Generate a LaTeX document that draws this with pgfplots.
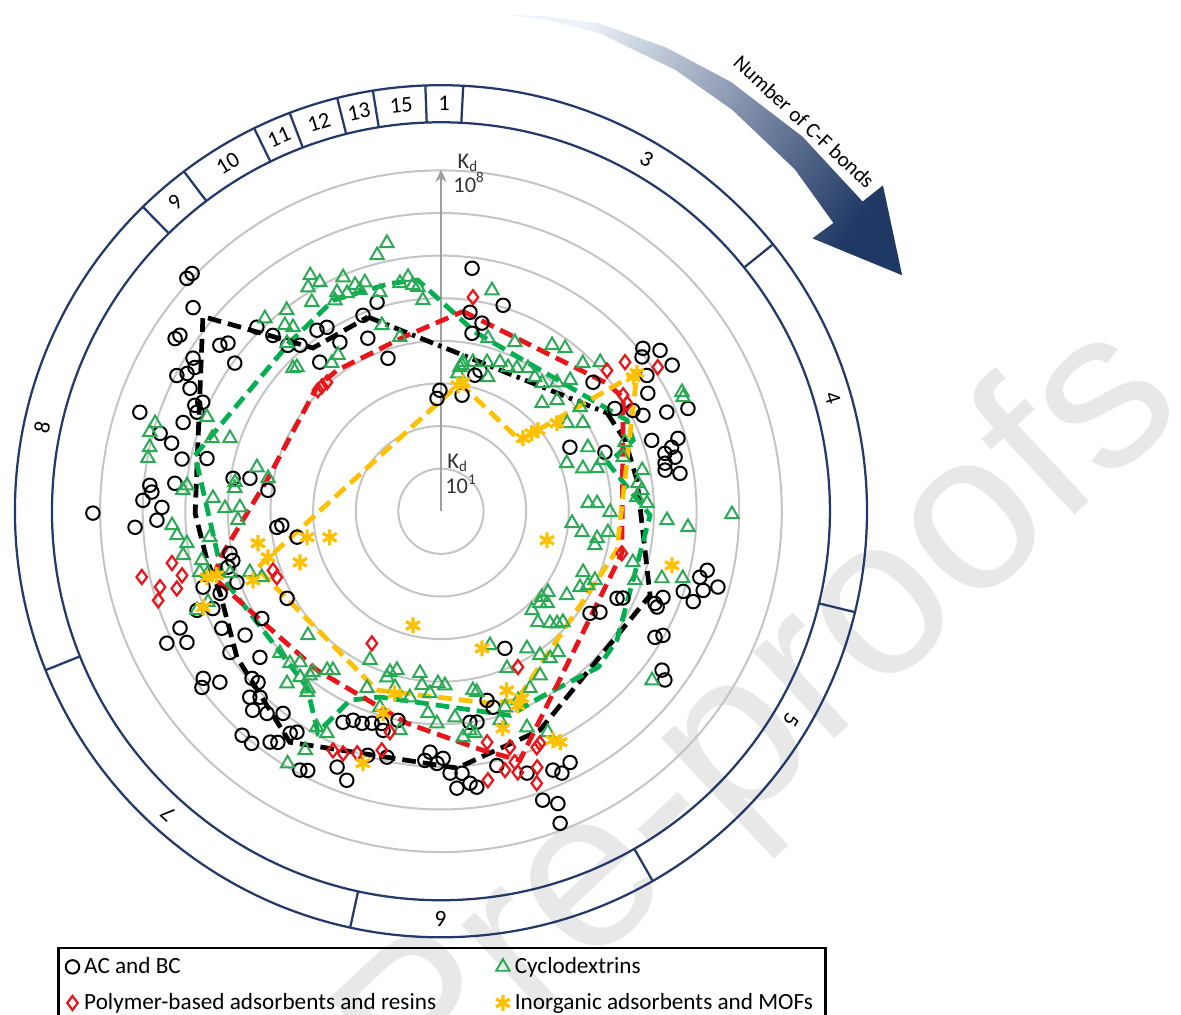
\documentclass[border=0pt]{standalone}
\usepackage{fontspec}
\setmainfont{Carlito}
\newfontfamily\wmfont{Liberation Sans}
\usepackage{pgfplots}
\usepackage{pgfplotstable}
\pgfplotsset{compat=1.18}
\usetikzlibrary{arrows.meta}

\definecolor{ringblue}{HTML}{22396A}
\definecolor{cdgreen}{HTML}{00B050}
\definecolor{cdmark}{HTML}{2BAA55}
\definecolor{polyred}{HTML}{E8161B}
\definecolor{inorg}{HTML}{FFC000}
\definecolor{gridgray}{HTML}{C4C4C4}
\definecolor{arrowlight}{HTML}{EEF3FA}
\definecolor{arrowmid}{HTML}{8EA9DB}
\definecolor{arrowdark}{HTML}{203864}

% t = angular position (degrees, clockwise from the top), k = log10 Kd
\pgfplotstableread{
t k
312.5 8.09
313.7 8.08
309.4 7.53
303.0 7.44
304.0 7.39
306.9 6.49
308.3 6.37
305.7 5.96
301.7 6.84
297.2 6.97
298.5 6.78
300.3 6.69
296.1 6.56
294.6 6.15
293.3 6.29
292.1 6.18
289.0 6.40
288.2 7.44
285.5 6.84
284.2 6.52
281.4 6.20
282.7 5.63
276.0 6.28
275.1 6.86
273.8 6.80
272.1 7.00
270.8 6.55
268.2 6.67
267.0 7.19
269.7 8.17
279.0 4.94
279.8 4.55
276.9 4.09
315.0 6.11
316.3 5.71
325.6 5.15
328.2 5.08
329.1 4.62
320.9 4.51
338.3 4.95
343.0 5.13
337.1 4.41
340.9 3.80
319.7 5.11
317.3 5.30
359.5 2.84
358.0 2.65
10.3 2.77
7.3 5.75
16.8 5.05
8.3 4.72
12.3 4.52
9.9 4.24
14.0 3.29
15.5 3.43
49.7 4.68
59.4 4.74
62.3 5.09
51.1 6.09
52.5 5.95
53.7 6.38
57.7 6.42
56.6 5.79
60.3 5.59
66.3 5.79
67.4 6.28
64.6 5.25
71.4 5.22
72.9 5.82
74.5 5.62
75.5 5.43
77.0 5.64
77.9 5.38
79.6 5.35
81.0 5.68
63.6 3.38
70.2 4.09
102.5 6.40
104.3 6.27
105.3 6.74
108.3 5.99
106.8 6.43
109.7 6.29
111.2 5.59
113.3 5.47
113.9 5.55
115.5 4.73
116.3 4.61
124.4 4.24
122.4 4.42
120.5 5.83
119.2 5.97
125.7 6.39
127.0 6.58
152.8 6.63
156.6 6.62
155.2 6.77
160.6 7.19
158.2 7.39
159.1 7.84
155.0 3.55
166.3 4.57
165.1 4.76
172.2 5.00
170.3 5.02
167.6 6.11
161.8 6.47
182.6 5.66
183.7 5.86
180.9 5.92
179.5 5.80
178.0 6.15
175.4 6.17
176.7 6.51
173.9 6.42
172.6 6.53
204.9 5.46
202.8 5.32
200.4 5.31
198.0 5.23
195.6 5.17
194.8 5.32
191.6 5.01
196.7 5.98
192.4 5.91
208.6 6.92
207.2 6.84
202.1 6.48
199.3 6.69
221.6 7.03
219.2 7.03
216.5 6.74
215.2 6.64
214.2 6.30
213.1 6.19
223.4 6.43
220.7 6.26
218.0 6.02
225.8 6.26
224.2 6.09
228.5 5.92
226.9 5.88
234.9 6.82
233.6 6.97
232.3 6.56
236.2 5.96
231.1 5.46
237.7 5.44
241.9 5.83
245.9 6.71
242.7 6.71
244.3 7.14
246.9 5.82
247.9 6.18
252.3 5.86
249.6 5.53
250.8 5.07
240.5 4.15
239.1 4.90
258.7 5.05
256.7 5.02
255.3 5.17
264.4 3.87
265.0 3.75
259.8 3.43
}\acbc

\pgfplotstableread{
t k
348.6 6.42
346.0 6.19
331.0 6.33
332.1 6.08
329.3 6.11
337.3 5.95
339.2 5.68
341.6 5.66
339.9 5.53
334.6 5.69
336.7 5.57
333.3 5.54
344.4 5.34
349.8 5.44
352.0 5.55
352.9 5.35
354.1 5.29
328.3 5.77
322.5 5.95
317.6 6.13
320.0 5.70
321.2 5.54
317.5 5.35
315.0 4.78
314.0 4.83
326.6 4.39
323.6 4.32
355.1 4.97
342.4 4.58
346.7 4.20
8.2 3.46
7.0 3.26
287.1 7.02
285.2 7.08
282.4 7.00
280.3 6.99
291.9 5.92
287.7 5.64
289.1 5.24
275.8 5.99
274.7 6.08
278.0 4.88
276.4 4.87
283.4 4.44
280.8 4.13
273.3 5.36
270.8 5.07
271.1 4.72
267.5 4.77
267.0 6.32
264.8 6.22
262.8 6.01
260.3 6.14
258.4 5.73
263.6 5.46
255.8 5.84
255.1 5.66
252.3 4.71
249.8 4.48
247.9 6.18
248.7 5.87
227.0 4.27
228.6 5.04
224.8 5.03
223.0 4.85
214.2 4.51
221.8 5.42
218.5 4.83
216.5 5.28
205.5 3.87
211.3 6.93
209.6 6.45
209.9 5.85
207.2 5.86
253.6 5.16
215.6 4.59
218.6 4.93
220.3 5.11
216.9 5.20
202.7 4.50
194.6 4.27
195.5 3.87
197.6 3.96
198.0 4.10
187.4 3.83
186.2 4.11
181.0 4.04
178.7 4.09
183.5 4.28
189.5 4.43
183.7 4.75
176.1 4.85
172.5 5.19
174.4 5.33
171.3 5.27
181.1 4.98
190.6 5.23
164.2 5.10
161.9 4.84
197.3 4.82
169.9 4.27
168.8 4.33
159.9 3.35
157.2 4.00
157.8 4.79
153.3 4.65
148.9 4.50
158.3 5.46
154.2 5.76
147.9 3.80
145.5 4.10
143.4 4.30
140.3 4.30
138.9 3.46
135.8 3.67
134.0 3.79
132.3 3.87
137.4 3.16
130.9 3.30
132.9 3.17
123.7 3.55
127.1 3.15
130.4 3.11
118.7 3.72
116.7 3.86
114.1 3.96
113.2 3.63
128.7 6.35
104.9 4.66
109.6 4.83
106.9 5.42
105.5 5.89
87.1 3.67
90.3 3.97
95.2 3.09
98.5 3.35
97.2 3.95
99.8 3.72
102.5 3.70
92.3 5.31
93.7 5.81
90.6 6.83
86.9 3.46
81.9 4.67
85.9 4.61
78.5 4.82
84.0 4.74
87.8 4.84
69.4 4.61
73.5 4.46
69.1 3.16
73.2 3.48
74.6 3.80
66.5 3.76
72.4 3.96
55.1 3.61
58.2 3.92
43.1 3.47
46.3 3.77
53.2 4.08
63.7 6.31
64.8 6.28
13.0 5.32
15.2 4.21
23.6 4.33
33.8 4.69
37.3 4.81
46.9 5.12
43.8 4.81
8.4 3.54
7.5 3.41
12.1 3.58
17.2 3.66
21.6 3.76
19.3 3.33
25.0 3.73
28.0 3.80
31.3 3.93
35.0 3.84
38.3 3.83
42.0 4.07
44.6 4.32
}\cyclo

\pgfplotstableread{
t k
314.5 4.05
316.4 4.05
318.5 4.04
8.5 5.08
51.0 5.56
56.4 6.11
49.7 5.11
57.5 5.07
59.9 5.05
259.1 6.43
257.6 7.19
256.1 6.26
254.9 6.83
253.7 6.46
252.5 6.96
250.6 4.18
248.1 4.15
207.6 3.50
153.7 4.08
204.3 6.16
202.0 6.13
199.1 6.01
193.9 5.78
193.0 5.32
168.7 5.53
170.1 6.41
166.1 6.26
163.6 6.14
163.6 6.39
157.9 5.98
159.4 6.42
160.6 6.77
103.1 4.36
156.9 5.92
163.7 5.77
}\polymer

\pgfplotstableread{
t k
7.7 2.98
9.7 3.07
48.3 2.58
49.4 2.81
50.1 2.97
52.8 3.42
55.1 5.50
54.8 5.63
105.3 2.58
260.1 4.36
255.1 4.20
249.8 4.70
250.1 3.52
259.0 3.20
256.8 2.68
254.2 5.71
254.1 5.47
248.0 6.02
197.2 6.19
193.8 2.76
163.3 3.36
159.8 4.48
156.6 4.78
158.4 4.90
164.1 5.30
153.9 5.98
152.7 6.10
196.0 4.93
194.2 4.41
103.2 5.57
}\inorganic

% mean profiles of each adsorbent group
\pgfplotstableread{
t k
59.4 4.53
68.9 4.63
81.0 4.66
111.9 5.29
155.7 5.64
176.4 6.04
213.2 6.48
234.4 5.89
249.6 5.53
258.2 5.61
269.5 5.77
309.3 7.22
321.9 4.87
339.4 4.87
}\acbcmean
\pgfplotstableread{
t k
339.4 4.87
59.4 4.53
}\acbcmeantop
\pgfplotstableread{
t k
6.3 4.72
52.4 4.92
58.1 5.04
103.1 4.36
155.8 5.51
162.4 6.13
170.0 5.70
189.1 5.04
217.9 4.73
240.1 4.98
253.9 5.57
259.1 5.21
280.1 4.15
315.0 4.12
323.6 4.11
347.7 4.18
6.3 4.72
}\polymermean
\pgfplotstableread{
t k
10.8 4.28
63.9 4.86
69.7 4.81
74.0 4.08
91.1 4.91
109.8 4.79
126.2 5.12
134.8 5.20
152.0 4.95
161.3 5.06
198.2 4.59
205.7 4.92
209.1 5.94
217.3 5.19
252.9 5.35
282.8 5.92
318.2 5.32
332.9 5.56
347.4 5.48
354.3 5.45
10.8 4.28
}\cyclomean
\pgfplotstableread{
t k
8.4 3.04
48.1 2.49
54.8 5.63
102.5 4.23
158.1 4.78
165.7 4.65
199.7 4.46
252.8 4.52
8.4 3.04
}\inorganicmean

\begin{document}
\begin{tikzpicture}[x=0.6cm,y=0.6cm]
% journal watermark
\node[rotate=43, anchor=base east, text=black!9, inner sep=0pt,
      font=\wmfont\fontsize{90}{90}\selectfont] at (17.55,2.4) {Pre-proofs};

% Kd rings, one per decade
\foreach \k in {1,...,8}
  \draw[gridgray, line width=0.8pt] (0,0) circle[radius=\k];
\draw[gray!75, line width=0.8pt, -{Stealth[length=5pt,width=4.5pt]}] (0,0) -- (0,8.02);
\begin{scope}[inner sep=0pt, anchor=west, text=black!80, font=\fontsize{9}{10}\selectfont]
  \node[anchor=west] at (0.38,8.17) {K\textsubscript{d}};
  \node[anchor=west] at (0.28,7.72) {10\textsuperscript{8}};
  \node[anchor=west] at (0.14,1.13) {K\textsubscript{d}};
  \node[anchor=west] at (0.09,0.63) {10\textsuperscript{1}};
\end{scope}

\begin{axis}[
  anchor=origin, at={(0,0)},
  x=0.6cm, y=0.6cm,
  hide axis, clip=false,
  xmin=-10.35, xmax=17.37, ymin=-11.81, ymax=12.0,
  legend columns=2,
  legend cell align=left,
  legend image code/.code={\draw[mark repeat=2,mark phase=2,#1]
     plot coordinates {(0cm,0cm) (0.14cm,0cm) (0.28cm,0cm)};},
  legend style={at={(0.0483,0.0665)}, anchor=north west,
    draw=black, line width=1pt, fill=none,
    inner xsep=3pt, inner ysep=1.5pt, row sep=2.5pt,
    font=\fontsize{9.3}{11}\selectfont,
    /tikz/every even column/.append style={column sep=22pt}},
]
\addplot[only marks, data cs=polar, mark=o, mark size=2.7pt,
  mark options={black, line width=0.8pt}]
  table[x expr={90-\thisrow{t}}, y=k] {\acbc};
\addlegendentry{AC and BC}
\addplot[only marks, data cs=polar, mark=triangle, mark size=3.1pt,
  mark options={cdmark, line width=0.8pt}]
  table[x expr={90-\thisrow{t}}, y=k] {\cyclo};
\addlegendentry{Cyclodextrins}
\addplot[only marks, data cs=polar, mark=diamond, mark size=2.8pt,
  mark options={polyred, line width=0.9pt}]
  table[x expr={90-\thisrow{t}}, y=k] {\polymer};
\addlegendentry{Polymer-based adsorbents and resins}
\addplot[only marks, data cs=polar, mark=asterisk, mark size=3.2pt,
  mark options={inorg, line width=1.3pt}]
  table[x expr={90-\thisrow{t}}, y=k] {\inorganic};
\addlegendentry{Inorganic adsorbents and MOFs}

\addplot[forget plot, data cs=polar, no marks, black, line width=1.9pt,
  dash pattern=on 5.5pt off 2.8pt]
  table[x expr={90-\thisrow{t}}, y=k] {\acbcmean};
\addplot[forget plot, data cs=polar, no marks, black, line width=1.9pt,
  dash pattern=on 5.5pt off 2.2pt on 1.4pt off 2.2pt]
  table[x expr={90-\thisrow{t}}, y=k] {\acbcmeantop};
\addplot[forget plot, data cs=polar, no marks, cdgreen, line width=1.9pt,
  dash pattern=on 5.5pt off 2.8pt]
  table[x expr={90-\thisrow{t}}, y=k] {\cyclomean};
\addplot[forget plot, data cs=polar, no marks, polyred, line width=1.9pt,
  dash pattern=on 5.5pt off 2.8pt]
  table[x expr={90-\thisrow{t}}, y=k] {\polymermean};
\addplot[forget plot, data cs=polar, no marks, inorg, line width=1.9pt,
  dash pattern=on 5.5pt off 2.8pt]
  table[x expr={90-\thisrow{t}}, y=k] {\inorganicmean};
\end{axis}

% outer ring: number of C-F bonds
\draw[ringblue, line width=0.9pt] (0,0) circle[radius=10];
\draw[ringblue, line width=0.9pt] (0,0) circle[radius=9.13];
\foreach \t in {357.9,3.0,51.2,103.7,150.2,192.3,248.1,315.6,322.9,334.0,339.2,345.9,350.8}
  \draw[ringblue, line width=0.9pt] ({90-\t}:9.13) -- ({90-\t}:10);
\foreach \t/\l in {0.45/1,30.3/3,73.9/4,120.8/5,180/6,222/7,281.9/8,319.3/9,328.5/10,336.6/11,342.6/12,348.4/13,354.4/15}
  \node[rotate=-\t, font=\fontsize{9}{10}\selectfont, inner sep=0pt] at ({90-\t}:9.57) {\l};

% curved arrow
\shade[top color=arrowlight, middle color=arrowmid, bottom color=arrowdark, shading angle=56]
  (82.1:11.76) -- (78:11.88) -- (72:12.04) -- (64:12.10) -- (56:12.16) -- (46:12.22)
  -- (36.3:12.28) -- (36.4:12.89) -- (27.1:12.16) -- (36.3:10.82) -- (36.3:11.43)
  -- (44:11.55) -- (54:11.64) -- (62:11.73) -- (71.6:11.82) -- (78:11.80) -- cycle;
\node[rotate=-43, font=\fontsize{8.5}{10}\selectfont, inner sep=0pt] at (47:12.5) {Number of C-F bonds};

\pgfresetboundingbox
\path[use as bounding box] (-10.35,-11.81) rectangle (17.37,12.0);
\end{tikzpicture}
\end{document}
